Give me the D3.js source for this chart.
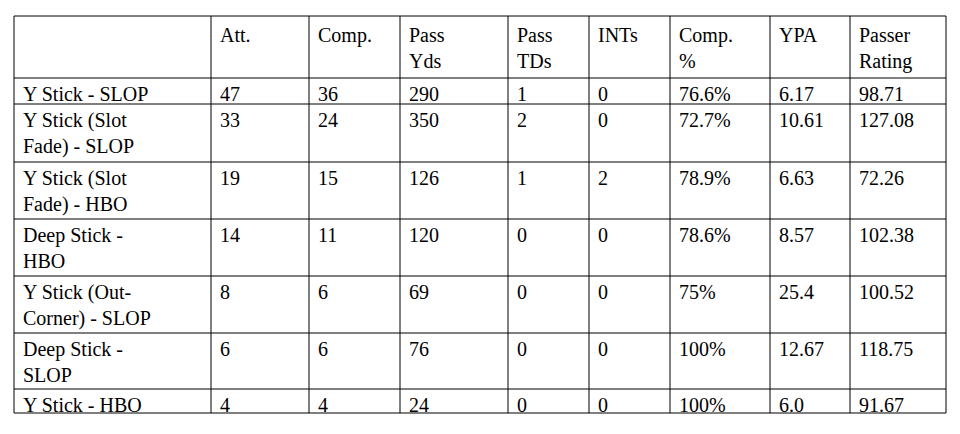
<!DOCTYPE html>
<html><head><meta charset="utf-8">
<script src="https://cdn.jsdelivr.net/npm/d3@7"></script>
<style>body{margin:0;background:#fff} text{font-family:"Liberation Serif","DejaVu Serif",serif;}</style></head>
<body><svg id="c" width="960" height="434"></svg>
<script>
const columns = ["", "Att.", "Comp.", "Pass\nYds", "Pass\nTDs", "INTs", "Comp.\n%", "YPA", "Passer\nRating"];
const categories = ["Y Stick - SLOP", "Y Stick (Slot\nFade) - SLOP", "Y Stick (Slot\nFade) - HBO", "Deep Stick -\nHBO", "Y Stick (Out-\nCorner) - SLOP", "Deep Stick -\nSLOP", "Y Stick - HBO"];
const att = [47, 33, 19, 14, 8, 6, 4];
const comp = [36, 24, 15, 11, 6, 6, 4];
const passYds = [290, 350, 126, 120, 69, 76, 24];
const passTDs = [1, 2, 1, 0, 0, 0, 0];
const ints = [0, 0, 2, 0, 0, 0, 0];
const compPct = ["76.6%", "72.7%", "78.9%", "78.6%", "75%", "100%", "100%"];
const ypa = ["6.17", "10.61", "6.63", "8.57", "25.4", "12.67", "6.0"];
const rating = ["98.71", "127.08", "72.26", "102.38", "100.52", "118.75", "91.67"];

const colEdges = [14, 211, 309, 400, 508, 589, 670, 770, 850, 946];
const rowEdges = [16, 78, 104, 162, 219, 276, 333, 389, 413];
const rows = [columns].concat(categories.map((c, i) => [c, att[i], comp[i], passYds[i], passTDs[i], ints[i], compPct[i], ypa[i], rating[i]]));

const svg = d3.select("#c");
const x = d3.scaleOrdinal().domain(d3.range(10)).range(colEdges);
const y = d3.scaleOrdinal().domain(d3.range(9)).range(rowEdges);
const g = svg.append("g");
rows.forEach((r, ri) => {
  r.forEach((v, ci) => {
    const lines = String(v).split("\n");
    const t = g.append("text").attr("font-size", 20).attr("fill", "#000");
    lines.forEach((l, li) => t.append("tspan").attr("x", x(ci) + 9).attr("y", y(ri) + (ri === 0 ? 26 : 23) + li * 26).text(l));
  });
});
colEdges.forEach((c, i) => g.append("line").attr("x1", x(i)).attr("x2", x(i)).attr("y1", rowEdges[0]).attr("y2", rowEdges[rowEdges.length-1]).attr("stroke", "#000").attr("stroke-width", 1));
rowEdges.forEach((r, i) => g.append("line").attr("y1", y(i)).attr("y2", y(i)).attr("x1", colEdges[0]).attr("x2", colEdges[colEdges.length-1]).attr("stroke", "#000").attr("stroke-width", 1));
</script></body></html>
